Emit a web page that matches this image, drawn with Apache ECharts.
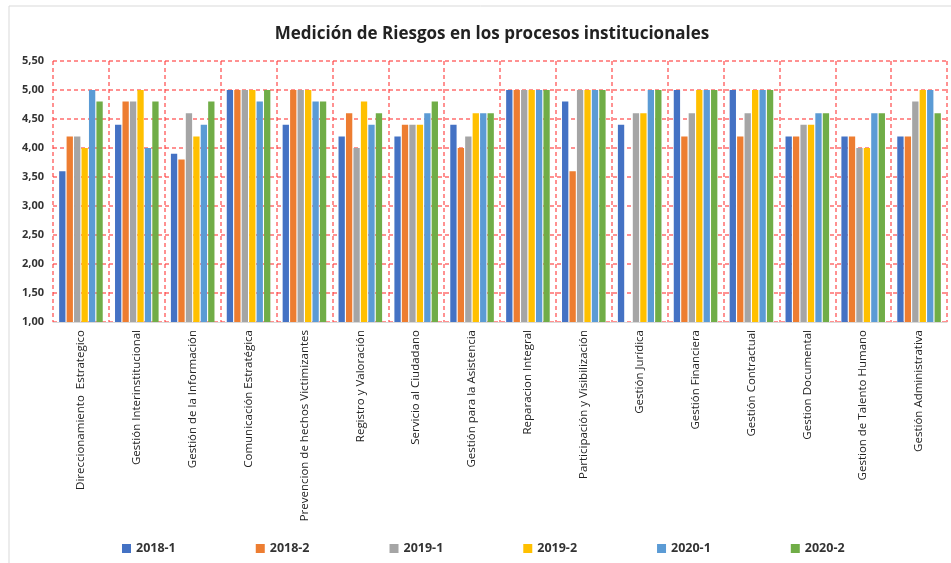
<!DOCTYPE html>
<html>
<head>
<meta charset="utf-8">
<script src="https://cdn.jsdelivr.net/npm/echarts@6/dist/echarts.min.js"></script>
<style>
  html, body { margin: 0; padding: 0; background: #fff; }
  #chart { width: 951px; height: 563px; }
</style>
</head>
<body>
<div id="chart"></div>
<script>
// procesos
var categorias = [
  "Direccionamiento  Estrategico",
  "Gestión Interinstitucional",
  "Gestión de la Información",
  "Comunicación Estratégica",
  "Prevencion de hechos Victimizantes",
  "Registro y Valoración",
  "Servicio al Ciudadano",
  "Gestión para la Asistencia",
  "Reparacion Integral",
  "Participación y Visibilización",
  "Gestión Jurídica",
  "Gestión Financiera",
  "Gestión Contractual",
  "Gestion Documental",
  "Gestion de Talento Humano",
  "Gestión Administrativa"
];

// valores por periodo
var p2018_1 = [3.6, 4.4, 3.9, 5.0, 4.4, 4.2, 4.2, 4.4, 5.0, 4.8, 4.4, 5.0, 5.0, 4.2, 4.2, 4.2];
var p2018_2 = [4.2, 4.8, 3.8, 5.0, 5.0, 4.6, 4.4, 4.0, 5.0, 3.6, 1.0, 4.2, 4.2, 4.2, 4.2, 4.2];
var p2019_1 = [4.2, 4.8, 4.6, 5.0, 5.0, 4.0, 4.4, 4.2, 5.0, 5.0, 4.6, 4.6, 4.6, 4.4, 4.0, 4.8];
var p2019_2 = [4.0, 5.0, 4.2, 5.0, 5.0, 4.8, 4.4, 4.6, 5.0, 5.0, 4.6, 5.0, 5.0, 4.4, 4.0, 5.0];
var p2020_1 = [5.0, 4.0, 4.4, 4.8, 4.8, 4.4, 4.6, 4.6, 5.0, 5.0, 5.0, 5.0, 5.0, 4.6, 4.6, 5.0];
var p2020_2 = [4.8, 4.8, 4.8, 5.0, 4.8, 4.6, 4.8, 4.6, 5.0, 5.0, 5.0, 5.0, 5.0, 4.6, 4.6, 4.6];

var periodos = ["2018-1", "2018-2", "2019-1", "2019-2", "2020-1", "2020-2"];
var datos = [p2018_1, p2018_2, p2019_1, p2019_2, p2020_1, p2020_2];
var colores = ["#4472C4", "#ED7D31", "#A5A5A5", "#FFC000", "#5B9BD5", "#70AD47"];

// eje y
var yMin = 1, yMax = 5.5, yPaso = 0.5;

var myChart = echarts.init(document.getElementById("chart"));

var series = [];
for (var i = 0; i < periodos.length; i++) {
  series.push({
    name: periodos[i],
    type: "bar",
    data: datos[i],
    barGap: "18%",
    barCategoryGap: "22%",
    itemStyle: { color: colores[i] }
  });
}

var lineaRoja = {
  show: true,
  lineStyle: { color: "rgba(255, 60, 60, 0.75)", type: [4, 3], width: 1.5 }
};

var option = {
  color: colores,
  animation: false,
  title: {
    text: "Medición de Riesgos en los procesos institucionales",
    left: 487,
    textAlign: "center",
    top: 21,
    textStyle: { fontFamily: "Open Sans", fontSize: 17, fontWeight: "bold", color: "#222" }
  },
  graphic: [{
    type: "rect",
    shape: { x: 9, y: 6, width: 960, height: 600 },
    style: { fill: "none", stroke: "#d9d9d9", lineWidth: 1 },
    silent: true
  }],
  grid: { left: 53, right: 4, top: 61, bottom: 241, containLabel: false },
  legend: {
    data: periodos,
    bottom: 3,
    left: 117,
    itemWidth: 9,
    itemHeight: 9,
    itemGap: 80,
    icon: "rect",
    textStyle: { fontFamily: "Open Sans", fontSize: 12.5, fontWeight: "bold", color: "#333" }
  },
  xAxis: {
    type: "category",
    data: categorias,
    axisLine: { show: true, lineStyle: { color: "#d9d9d9" } },
    axisTick: { show: false },
    splitLine: lineaRoja,
    axisLabel: {
      rotate: 90,
      interval: 0,
      margin: 8,
      fontFamily: "Open Sans",
      fontSize: 11.5,
      color: "#222"
    }
  },
  yAxis: {
    type: "value",
    min: yMin,
    max: yMax,
    interval: yPaso,
    axisLine: { show: false },
    axisTick: { show: false },
    splitLine: lineaRoja,
    axisLabel: {
      margin: 9,
      fontFamily: "Open Sans",
      fontSize: 11,
      fontWeight: "bold",
      color: "#333",
      formatter: function (v) { return v.toFixed(2).replace(".", ","); }
    }
  },
  series: series
};

myChart.setOption(option);
</script>
</body>
</html>
